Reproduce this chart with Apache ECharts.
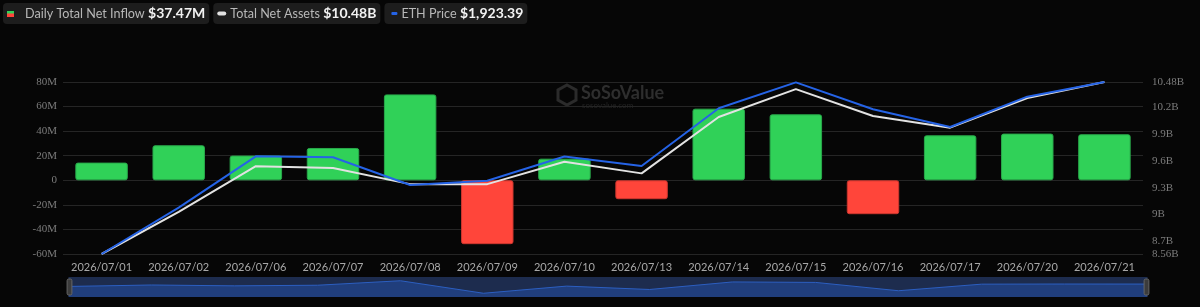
<!DOCTYPE html>
<html>
<head>
<meta charset="utf-8">
<script src="https://cdn.jsdelivr.net/npm/echarts@6/dist/echarts.min.js"></script>
<style>
  html, body { margin: 0; padding: 0; background: #060606; }
  #chart { width: 1200px; height: 307px; }
</style>
</head>
<body>
<div id="chart"></div>
<script>
// data
const dates = ['2026/07/01', '2026/07/02', '2026/07/06', '2026/07/07', '2026/07/08', '2026/07/09', '2026/07/10',
  '2026/07/13', '2026/07/14', '2026/07/15', '2026/07/16', '2026/07/17', '2026/07/20', '2026/07/21']
// daily total net inflow, million USD
const netInflow = [14.4, 28.5, 20.1, 26.3, 69.9, -52.0, 17.6, -15.4, 58.3, 53.7, -27.6, 36.6, 38.0, 37.47]
// total net assets, billion USD
const netAssets = [8.56, 9.03, 9.54, 9.52, 9.34, 9.34, 9.59, 9.46, 10.09, 10.40, 10.10, 9.97, 10.30, 10.48]
// ETH price, USD
const ethPrice = [1650.0, 1723.6, 1805.3, 1803.7, 1759.7, 1766.5, 1805.0, 1789.9, 1881.6, 1922.8, 1880.0, 1851.9, 1900.1, 1923.39]
// axis ticks
const inflowTicks = { min: -60, max: 80, interval: 20 }
const assetTicks = [8.56, 8.7, 9, 9.3, 9.6, 9.9, 10.2, 10.48]

const GREEN = '#30d158'
const RED = '#ff453a'
const BLUE = '#2563e6'
const WHITE = '#e2e2e2'
const SERIF = "'Liberation Serif', 'DejaVu Serif', serif"

// 小图标：上绿下红
const icon = document.createElement('canvas')
icon.width = 7
icon.height = 6
const ctx = icon.getContext('2d')
ctx.fillStyle = GREEN
ctx.fillRect(0, 0, 7, 3)
ctx.fillStyle = RED
ctx.fillRect(0, 3, 7, 3)

const last = (arr) => arr[arr.length - 1]
const legendValues = {
  'Daily Total Net Inflow': '$' + last(netInflow).toFixed(2) + 'M',
  'Total Net Assets': '$' + last(netAssets).toFixed(2) + 'B',
  'ETH Price': '$' + last(ethPrice).toLocaleString('en-US', { minimumFractionDigits: 2 }),
}
const legendIcons = {
  'Daily Total Net Inflow': '{ib|}{gap|}',
  'Total Net Assets': '{wd|}{gap2|}',
  'ETH Price': '{gap3|}{bd|}{gap2|}',
}

// 柱子颜色按正负区分
const barData = netInflow.map((v) => ({
  value: v,
  itemStyle: {
    color: v >= 0 ? GREEN : RED,
    borderColor: v >= 0 ? '#29a94b' : '#cc362e',
  },
}))

const chart = echarts.init(document.getElementById('chart'))

const option = {
  backgroundColor: '#060606',
  animation: false,
  legend: {
    left: -2,
    top: 3,
    padding: 0,
    icon: 'none',
    itemWidth: 0,
    itemHeight: 0,
    itemGap: -1,
    selectedMode: false,
    data: ['Daily Total Net Inflow', 'Total Net Assets', 'ETH Price'],
    formatter: (name) => `${legendIcons[name]}{n|${name}} {v|${legendValues[name]}}`,
    textStyle: {
      backgroundColor: '#1d1d1d',
      borderRadius: 4,
      padding: [2, 4, 2, 4],
      rich: {
        ib: { width: 7, height: 6, backgroundColor: { image: icon } },
        wd: { width: 9, height: 4, backgroundColor: WHITE, borderRadius: 2 },
        bd: { width: 6, height: 3, backgroundColor: BLUE, borderRadius: 1 },
        gap: { width: 11 },
        gap2: { width: 4 },
        gap3: { width: 3 },
        n: { color: '#b8b8b8', fontSize: 12.6, fontFamily: 'Lato', lineHeight: 17 },
        v: { color: '#f2f2f2', fontSize: 14, fontWeight: 'bold', fontFamily: 'Lato', lineHeight: 17 },
      },
    },
  },
  graphic: [
    {
      type: 'polygon',
      z: -1,
      shape: { points: [[567, 85], [576, 90], [576, 100], [567, 105], [558, 100], [558, 90]] },
      style: { fill: 'none', stroke: '#2b2b2b', lineWidth: 3 },
    },
    {
      type: 'text',
      z: -1,
      left: 581,
      top: 84,
      style: { text: 'SoSoValue', fill: '#2e2e2e', font: 'bold 18px Lato' },
    },
    {
      type: 'text',
      z: -1,
      left: 582,
      top: 101,
      style: { text: 'sosovalue.com', fill: '#242424', font: '8px Lato' },
    },
  ],
  grid: {
    left: 63,
    right: 57,
    top: 82,
    bottom: 53,
  },
  xAxis: {
    type: 'category',
    data: dates,
    axisTick: { show: false },
    axisLine: { show: false },
    axisLabel: {
      color: '#a8a8a8',
      fontSize: 11,
      fontFamily: 'Lato',
      margin: 8,
      interval: 0,
    },
  },
  yAxis: [
    {
      type: 'value',
      min: inflowTicks.min,
      max: inflowTicks.max,
      interval: inflowTicks.interval,
      axisLabel: {
        color: '#7c7c7c',
        fontSize: 11,
        fontFamily: SERIF,
        margin: 6,
        formatter: (v) => (v === 0 ? '0' : v + 'M'),
      },
      splitLine: { lineStyle: { color: '#252525', width: 1 } },
    },
    {
      type: 'value',
      position: 'right',
      min: assetTicks[0],
      max: last(assetTicks),
      splitLine: { show: false },
      axisLine: { show: false },
      axisTick: { show: false },
      axisLabel: {
        color: '#7c7c7c',
        fontSize: 11,
        fontFamily: SERIF,
        margin: 9,
        customValues: assetTicks,
        hideOverlap: false,
        formatter: (v) => v + 'B',
      },
    },
    {
      type: 'value',
      show: false,
      min: 'dataMin',
      max: 'dataMax',
      splitLine: { show: false },
    },
  ],
  dataZoom: [
    {
      type: 'slider',
      xAxisIndex: 0,
      left: 66,
      right: 55,
      bottom: 10,
      height: 20,
      showDetail: false,
      brushSelect: false,
      moveHandleSize: 0,
      borderColor: 'transparent',
      backgroundColor: '#1c2846',
      fillerColor: 'rgba(40, 70, 140, 0.12)',
      handleIcon: 'path://M2,0 L4,0 Q6,0 6,2 L6,18 Q6,20 4,20 L2,20 Q0,20 0,18 L0,2 Q0,0 2,0 Z',
      handleSize: '80%',
      handleStyle: { color: '#3c3c3c', borderColor: '#666666', borderWidth: 1 },
      dataBackground: {
        lineStyle: { color: '#2d62c8', width: 1 },
        areaStyle: { color: '#1f3d7a', opacity: 1 },
      },
      selectedDataBackground: {
        lineStyle: { color: '#2d62c8', width: 1 },
        areaStyle: { color: '#1f3d7a', opacity: 1 },
      },
    },
  ],
  series: [
    {
      name: 'Daily Total Net Inflow',
      type: 'bar',
      data: barData,
      barWidth: '68%',
      itemStyle: {
        borderWidth: 1,
        borderRadius: 2,
      },
    },
    {
      name: 'Total Net Assets',
      type: 'line',
      yAxisIndex: 1,
      data: netAssets,
      symbol: 'none',
      lineStyle: { color: WHITE, width: 2 },
      itemStyle: { color: WHITE },
    },
    {
      name: 'ETH Price',
      type: 'line',
      yAxisIndex: 2,
      data: ethPrice,
      symbol: 'none',
      lineStyle: { color: BLUE, width: 2 },
      itemStyle: { color: BLUE },
    },
  ],
}

chart.setOption(option)

window.addEventListener('resize', () => {
  chart.resize()
})
</script>
</body>
</html>
